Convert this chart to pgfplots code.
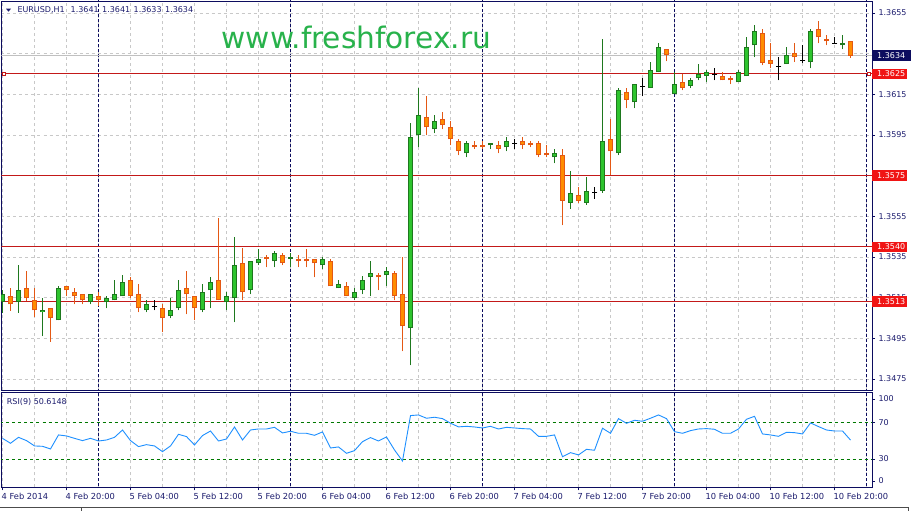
\documentclass[border=0pt]{standalone}
\usepackage{fontspec}
\setmainfont{DejaVu Sans}
\usepackage{pgfplots}
\usepackage{pgfplotstable}
\pgfplotsset{compat=1.18}
\definecolor{mtnavy}{RGB}{12,12,95}
\definecolor{navytxt}{RGB}{28,28,110}
\definecolor{gfill}{RGB}{46,196,46}
\definecolor{gline}{RGB}{30,120,30}
\definecolor{ofill}{RGB}{255,140,0}
\definecolor{oline}{RGB}{228,88,20}
\definecolor{hline}{RGB}{195,25,25}
\definecolor{lblred}{RGB}{240,20,20}
\definecolor{gridc}{RGB}{200,200,200}
\definecolor{bidc}{RGB}{192,192,192}
\definecolor{rsiblue}{RGB}{30,144,255}
\definecolor{lvlgreen}{RGB}{0,120,0}
\definecolor{wm}{RGB}{40,178,75}

\pgfplotstableread{
i o h l c
0 1.35127 1.35188 1.35076 1.35166
2 1.35127 1.35310 1.35076 1.35186
5 1.35078 1.35147 1.34961 1.35089
7 1.35038 1.35206 1.35038 1.35196
11 1.35127 1.35166 1.35117 1.35166
13 1.35127 1.35157 1.35098 1.35147
14 1.35137 1.35235 1.35137 1.35166
15 1.35157 1.35260 1.35157 1.35225
18 1.35088 1.35137 1.35078 1.35117
21 1.35058 1.35147 1.35048 1.35088
22 1.35098 1.35235 1.35088 1.35186
25 1.35088 1.35216 1.35078 1.35176
26 1.35186 1.35250 1.35098 1.35225
28 1.35127 1.35176 1.35088 1.35157
29 1.35147 1.35447 1.35029 1.35309
31 1.35186 1.35329 1.35166 1.35329
32 1.35319 1.35388 1.35309 1.35339
34 1.35329 1.35378 1.35299 1.35368
36 1.35339 1.35368 1.35299 1.35348
40 1.35309 1.35348 1.35289 1.35339
42 1.35196 1.35235 1.35196 1.35216
44 1.35147 1.35196 1.35137 1.35176
45 1.35186 1.35255 1.35166 1.35235
46 1.35250 1.35329 1.35157 1.35270
48 1.35260 1.35299 1.35206 1.35279
51 1.34999 1.36007 1.34817 1.35939
52 1.35948 1.36180 1.35889 1.36047
54 1.35978 1.36047 1.35958 1.36017
58 1.35860 1.35919 1.35840 1.35909
61 1.35899 1.35909 1.35880 1.35909
63 1.35889 1.35939 1.35870 1.35919
69 1.35840 1.35880 1.35811 1.35860
71 1.35617 1.35774 1.35587 1.35666
73 1.35617 1.35745 1.35607 1.35676
75 1.35676 1.36421 1.35666 1.35919
77 1.35860 1.36180 1.35850 1.36170
79 1.36111 1.36199 1.36081 1.36199
81 1.36180 1.36308 1.36180 1.36268
82 1.36258 1.36401 1.36258 1.36381
84 1.36150 1.36258 1.36150 1.36199
86 1.36190 1.36229 1.36180 1.36219
87 1.36229 1.36298 1.36219 1.36249
88 1.36239 1.36268 1.36209 1.36258
92 1.36209 1.36268 1.36209 1.36258
93 1.36239 1.36430 1.36239 1.36381
94 1.36391 1.36490 1.36332 1.36460
98 1.36298 1.36381 1.36298 1.36342
101 1.36308 1.36470 1.36278 1.36460
105 1.36391 1.36440 1.36371 1.36401
}\bull

\pgfplotstableread{
i o h l c
1 1.35157 1.35196 1.35086 1.35117
3 1.35196 1.35281 1.35135 1.35147
4 1.35138 1.35196 1.35056 1.35088
6 1.35098 1.35098 1.34933 1.35048
8 1.35206 1.35206 1.35157 1.35186
9 1.35176 1.35196 1.35117 1.35157
10 1.35166 1.35166 1.35117 1.35137
12 1.35157 1.35176 1.35107 1.35137
16 1.35235 1.35250 1.35147 1.35157
17 1.35166 1.35216 1.35078 1.35098
20 1.35098 1.35117 1.34979 1.35048
23 1.35196 1.35279 1.35068 1.35166
24 1.35157 1.35157 1.35038 1.35098
27 1.35235 1.35540 1.35137 1.35137
30 1.35319 1.35393 1.35137 1.35176
33 1.35348 1.35358 1.35299 1.35339
35 1.35358 1.35368 1.35309 1.35319
37 1.35339 1.35358 1.35299 1.35329
38 1.35339 1.35388 1.35299 1.35329
39 1.35339 1.35339 1.35250 1.35319
41 1.35329 1.35339 1.35206 1.35206
43 1.35206 1.35225 1.35157 1.35157
47 1.35260 1.35270 1.35186 1.35250
49 1.35270 1.35279 1.35137 1.35157
50 1.35166 1.35348 1.34886 1.35009
53 1.36037 1.36140 1.35948 1.35988
55 1.36027 1.36062 1.35978 1.35998
56 1.35988 1.36017 1.35899 1.35929
57 1.35919 1.35929 1.35850 1.35870
59 1.35899 1.35919 1.35880 1.35889
60 1.35899 1.35919 1.35880 1.35889
62 1.35899 1.35919 1.35860 1.35880
65 1.35919 1.35939 1.35880 1.35899
66 1.35909 1.35919 1.35889 1.35899
67 1.35909 1.35919 1.35840 1.35850
68 1.35860 1.35899 1.35840 1.35850
70 1.35850 1.35880 1.35506 1.35627
72 1.35656 1.35696 1.35617 1.35627
76 1.35929 1.36027 1.35755 1.35870
78 1.36160 1.36180 1.36081 1.36121
83 1.36371 1.36371 1.36312 1.36342
85 1.36209 1.36249 1.36170 1.36180
90 1.36239 1.36258 1.36219 1.36219
91 1.36229 1.36239 1.36199 1.36219
95 1.36450 1.36470 1.36293 1.36303
96 1.36317 1.36401 1.36278 1.36298
99 1.36352 1.36401 1.36308 1.36332
102 1.36470 1.36509 1.36401 1.36430
103 1.36421 1.36440 1.36391 1.36411
106 1.36410 1.36410 1.36330 1.36340
}\bear

\pgfplotstableread{
i o h l
19 1.35107 1.35137 1.35088
64 1.35909 1.35929 1.35880
74 1.35666 1.35696 1.35637
80 1.36190 1.36229 1.36140
89 1.36250 1.36278 1.36219
97 1.36288 1.36332 1.36219
100 1.36317 1.36391 1.36303
104 1.36401 1.36430 1.36401
}\doji

\pgfplotstableread{
i v
0 52.5
1 47.1
2 53.6
3 50.0
4 44.2
5 43.8
6 40.9
7 56.2
8 55.1
9 52.5
10 50.0
11 52.5
12 49.6
13 50.7
14 53.6
15 61.6
16 50.0
17 43.5
18 45.6
19 44.2
20 38.0
21 44.2
22 56.9
23 54.4
24 45.3
25 55.5
26 60.5
27 49.6
28 51.8
29 64.9
30 50.7
31 61.6
32 62.7
33 62.7
34 64.5
35 58.4
36 60.2
37 58.0
38 58.0
39 55.8
40 59.5
41 42.0
42 43.1
43 36.2
44 39.1
45 48.9
46 53.3
47 49.6
48 54.0
49 39.8
50 27.8
51 77.3
52 78.0
53 74.4
54 75.5
55 74.0
56 69.0
57 65.0
58 65.6
59 64.9
60 63.8
61 65.6
62 62.7
63 64.5
64 63.8
65 63.1
66 62.7
67 54.7
68 54.7
69 56.2
70 32.5
71 36.9
72 34.4
73 40.5
74 39.5
75 63.5
76 58.0
77 74.0
78 68.9
79 72.2
80 71.1
81 74.4
82 78.0
83 74.0
84 59.8
85 58.0
86 60.9
87 62.7
88 63.1
89 62.4
90 58.0
91 58.0
92 62.7
93 73.3
94 76.5
95 57.3
96 56.2
97 54.7
98 59.1
99 58.7
100 57.3
101 69.3
102 65.3
103 61.6
104 60.5
105 60.5
106 50.6148
}\rsi

\begin{document}
\begin{tikzpicture}[x=1pt,y=1pt]
\fill[white] (0,0) rectangle (913,511);
\path[use as bounding box] (0,0) rectangle (913,511);

% ---------------- main price panel ----------------
\begin{axis}[
  at={(1.5pt,121pt)}, anchor=south west,
  scale only axis, width=870.5pt, height=389pt,
  xmin=-0.125, xmax=108.6875, ymin=1.34696, ymax=1.36609,
  axis line style={draw=mtnavy, line width=0.9pt},
  xtick={0,4,...,108}, xticklabels={},
  major x tick style={draw=none},
  xmajorgrids, ymajorgrids,
  major grid style={draw=gridc, dash pattern=on 3pt off 3pt, line width=0.8pt},
  ytick={1.3475,1.3495,1.3515,1.3535,1.3555,1.3575,1.3595,1.3615,1.3635,1.3655},
  yticklabels={1.3475,1.3495,1.3515,1.3535,1.3555,1.3575,1.3595,1.3615,{},1.3655},
  ytick pos=right, tick align=outside, major tick length=3pt,
  major y tick style={draw=mtnavy, line width=0.8pt},
  yticklabel style={font=\fontsize{8}{9.6}\selectfont, text=navytxt, anchor=west},
  scaled y ticks=false,
  clip mode=individual,
]
% day separators
\addplot[mtnavy, dash pattern=on 3pt off 2pt, line width=0.9pt, forget plot] coordinates {(12,1.34) (12,1.37)};
\addplot[mtnavy, dash pattern=on 3pt off 2pt, line width=0.9pt, forget plot] coordinates {(36,1.34) (36,1.37)};
\addplot[mtnavy, dash pattern=on 3pt off 2pt, line width=0.9pt, forget plot] coordinates {(60,1.34) (60,1.37)};
\addplot[mtnavy, dash pattern=on 3pt off 2pt, line width=0.9pt, forget plot] coordinates {(84,1.34) (84,1.37)};
\addplot[mtnavy, dash pattern=on 3pt off 2pt, line width=0.9pt, forget plot] coordinates {(108,1.34) (108,1.37)};
% bid line
\addplot[bidc, line width=0.9pt, forget plot] coordinates {(-1,1.3634) (110,1.3634)};
% horizontal levels
\addplot[hline, line width=1pt, forget plot] coordinates {(-1,1.3625) (110,1.3625)};
\addplot[hline, line width=1pt, forget plot] coordinates {(-1,1.3575) (110,1.3575)};
\addplot[hline, line width=1pt, forget plot] coordinates {(-1,1.3540) (110,1.3540)};
\addplot[hline, line width=1pt, forget plot] coordinates {(-1,1.3513) (110,1.3513)};

% bull candles
\addplot[draw=none, mark=none, forget plot,
  error bars/.cd, y dir=plus, y explicit, error mark=none,
  error bar style={draw=gline, line width=0.9pt, solid}]
  table[x=i, y=l, y error expr={\thisrow{h}-\thisrow{l}}] {\bull};
\addplot[draw=none, mark=none, forget plot,
  error bars/.cd, y dir=plus, y explicit, error mark=none,
  error bar style={draw=gline, line width=5pt, solid, line cap=butt}]
  table[x=i, y=o, y error expr={\thisrow{c}-\thisrow{o}}] {\bull};
\addplot[draw=none, mark=none, forget plot,
  error bars/.cd, y dir=plus, y explicit, error mark=none,
  error bar style={draw=gfill, line width=3.2pt, solid, line cap=butt}]
  table[x=i, y expr={\thisrow{o}+0.00005}, y error expr={max(\thisrow{c}-\thisrow{o}-0.0001,0)}] {\bull};
% bear candles
\addplot[draw=none, mark=none, forget plot,
  error bars/.cd, y dir=plus, y explicit, error mark=none,
  error bar style={draw=oline, line width=0.9pt, solid}]
  table[x=i, y=l, y error expr={\thisrow{h}-\thisrow{l}}] {\bear};
\addplot[draw=none, mark=none, forget plot,
  error bars/.cd, y dir=plus, y explicit, error mark=none,
  error bar style={draw=oline, line width=5pt, solid, line cap=butt}]
  table[x=i, y=c, y error expr={\thisrow{o}-\thisrow{c}}] {\bear};
\addplot[draw=none, mark=none, forget plot,
  error bars/.cd, y dir=plus, y explicit, error mark=none,
  error bar style={draw=ofill, line width=3.2pt, solid, line cap=butt}]
  table[x=i, y expr={\thisrow{c}+0.00005}, y error expr={max(\thisrow{o}-\thisrow{c}-0.0001,0)}] {\bear};
% doji
\addplot[draw=none, mark=none, forget plot,
  error bars/.cd, y dir=plus, y explicit, error mark=none,
  error bar style={draw=black, line width=0.9pt, solid}]
  table[x=i, y=l, y error expr={\thisrow{h}-\thisrow{l}}] {\doji};
\addplot[only marks, mark=-, mark size=2.8pt, mark options={draw=black, line width=0.9pt}, forget plot]
  table[x=i, y=o] {\doji};
% handles of the selected line
\addplot[only marks, mark=square*, mark size=1.8pt, mark options={draw=hline, fill=white, line width=0.8pt}, forget plot]
  coordinates {(0.19,1.3625) (108.3,1.3625)};

% price labels on the scale
\node[anchor=west, fill=mtnavy, text=white, inner xsep=0pt, inner ysep=0pt, minimum height=10.5pt,
  font=\fontsize{8}{9.6}\selectfont] at (axis cs:108.6875,1.3634) {\hspace*{5pt}1.3634\hspace*{6pt}};
\node[anchor=west, fill=lblred, text=white, inner xsep=0pt, inner ysep=0pt, minimum height=10.5pt,
  font=\fontsize{8}{9.6}\selectfont] at (axis cs:108.6875,1.3625) {\hspace*{5pt}1.3625\hspace*{2pt}};
\node[anchor=west, fill=lblred, text=white, inner xsep=0pt, inner ysep=0pt, minimum height=10.5pt,
  font=\fontsize{8}{9.6}\selectfont] at (axis cs:108.6875,1.3575) {\hspace*{5pt}1.3575\hspace*{2pt}};
\node[anchor=west, fill=lblred, text=white, inner xsep=0pt, inner ysep=0pt, minimum height=10.5pt,
  font=\fontsize{8}{9.6}\selectfont] at (axis cs:108.6875,1.3540) {\hspace*{5pt}1.3540\hspace*{2pt}};
\node[anchor=west, fill=lblred, text=white, inner xsep=0pt, inner ysep=0pt, minimum height=10.5pt,
  font=\fontsize{8}{9.6}\selectfont] at (axis cs:108.6875,1.3513) {\hspace*{5pt}1.3513\hspace*{2pt}};
\end{axis}

% ---------------- RSI panel ----------------
\begin{axis}[
  at={(1.5pt,23.7pt)}, anchor=south west,
  scale only axis, width=870.5pt, height=95pt,
  xmin=-0.125, xmax=108.6875, ymin=-0.9, ymax=102.7,
  axis line style={draw=mtnavy, line width=0.9pt},
  xtick={0,8,...,104},
  xticklabels={4 Feb 2014,4 Feb 20:00,5 Feb 04:00,5 Feb 12:00,5 Feb 20:00,6 Feb 04:00,6 Feb 12:00,6 Feb 20:00,7 Feb 04:00,7 Feb 12:00,7 Feb 20:00,10 Feb 04:00,10 Feb 12:00,10 Feb 20:00},
  minor xtick={4,12,...,108},
  xmajorgrids, xminorgrids,
  major grid style={draw=gridc, dash pattern=on 3pt off 3pt, line width=0.8pt},
  minor grid style={draw=gridc, dash pattern=on 3pt off 3pt, line width=0.8pt},
  xtick pos=left, ytick pos=right, tick align=outside,
  major tick length=3pt, minor tick length=0pt,
  major tick style={draw=mtnavy, line width=0.8pt},
  ytick={5.97,30,70,95.4}, yticklabels={0,30,70,100},
  xticklabel style={font=\fontsize{8.3}{10}\selectfont, text=navytxt, anchor=north west, inner sep=0pt, xshift=-1pt, yshift=-3pt},
  yticklabel style={font=\fontsize{8}{9.6}\selectfont, text=navytxt, anchor=west},
  clip mode=individual,
]
\addplot[mtnavy, dash pattern=on 3pt off 2pt, line width=0.9pt, forget plot] coordinates {(12,-10) (12,110)};
\addplot[mtnavy, dash pattern=on 3pt off 2pt, line width=0.9pt, forget plot] coordinates {(36,-10) (36,110)};
\addplot[mtnavy, dash pattern=on 3pt off 2pt, line width=0.9pt, forget plot] coordinates {(60,-10) (60,110)};
\addplot[mtnavy, dash pattern=on 3pt off 2pt, line width=0.9pt, forget plot] coordinates {(84,-10) (84,110)};
\addplot[mtnavy, dash pattern=on 3pt off 2pt, line width=0.9pt, forget plot] coordinates {(108,-10) (108,110)};
\addplot[lvlgreen, dash pattern=on 3pt off 3pt, line width=0.8pt, forget plot] coordinates {(-1,70) (110,70)};
\addplot[lvlgreen, dash pattern=on 3pt off 3pt, line width=0.8pt, forget plot] coordinates {(-1,30) (110,30)};
\addplot[rsiblue, line width=0.9pt, mark=none] table[x=i, y=v] {\rsi};
\end{axis}

% ---------------- texts ----------------
\fill[navytxt] (6,502.3) -- (11,502.3) -- (8.5,499.3) -- cycle;
\node[anchor=base west, inner sep=0pt, text=navytxt, font=\fontsize{8}{9.6}\selectfont]
  at (17.3,498.3) {EURUSD,H1\hspace{6pt}1.3641\hspace{3.5pt}1.3641\hspace{3.5pt}1.3633\hspace{3.5pt}1.3634};
\node[anchor=base west, inner sep=0pt, text=wm, font=\fontsize{29.6}{35}\selectfont]
  at (221.5,462.7) {www.freshforex.ru};
\node[anchor=base west, inner sep=0pt, text=navytxt, font=\fontsize{8}{9.6}\selectfont]
  at (6.7,106.7) {RSI(9) 50.6148};
\draw[gray!60!black, line width=0.8pt] (0,3.2) -- (908,3.2) -- (908,0);
\draw[gray!60!black, line width=0.8pt] (81,3.2) -- (81,0);
\end{tikzpicture}
\end{document}
